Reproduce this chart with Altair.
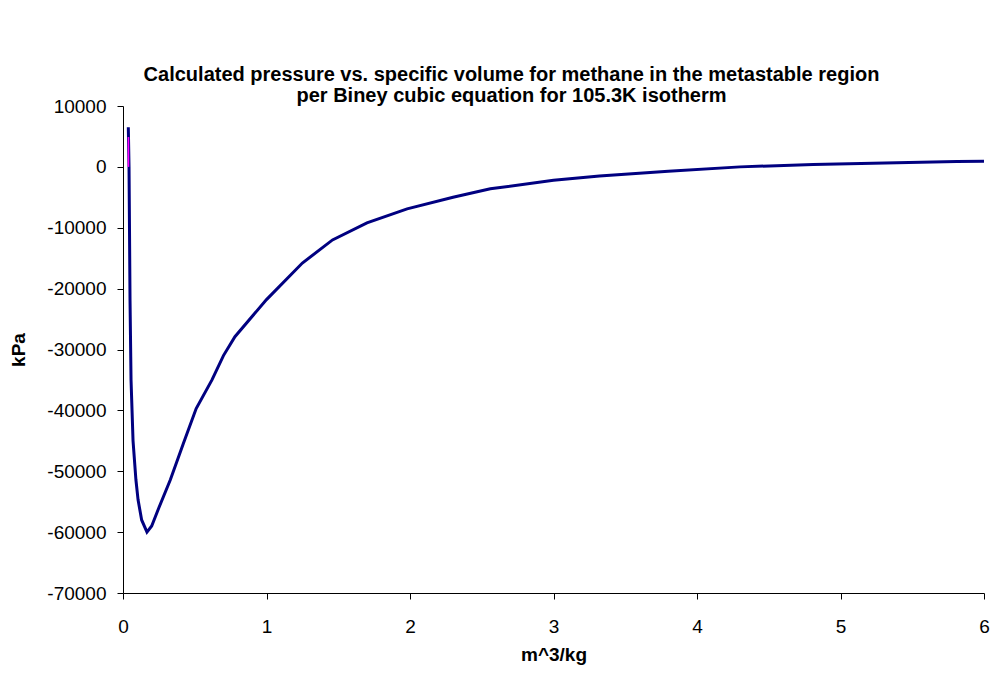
import altair as alt
import pandas as pd

# Main isotherm series (specific volume m^3/kg, pressure kPa)
vol = [0.037, 0.042, 0.049, 0.056, 0.07, 0.09, 0.105, 0.13, 0.167, 0.2, 0.25,
       0.33, 0.42, 0.51, 0.62, 0.7, 0.78, 1.0, 1.25, 1.46, 1.7, 1.98, 2.3,
       2.56, 3.0, 3.32, 3.8, 4.3, 4.81, 5.31, 5.81, 6.0]
pres = [6500, 0, -22000, -35000, -45000, -51400, -54700, -58000, -60000,
        -59000, -56000, -51400, -45500, -39700, -35000, -31000, -27900,
        -21800, -15800, -12000, -9200, -6900, -5000, -3600, -2200, -1500,
        -700, 0, 380, 650, 870, 930]

# Short highlighted segment near the spike
mag_vol = [0.038, 0.038]
mag_pres = [4900, 0]

x_ticks = [0, 1, 2, 3, 4, 5, 6]
y_ticks = [-70000, -60000, -50000, -40000, -30000, -20000, -10000, 0, 10000]

df = pd.DataFrame({"v": vol, "p": pres, "i": list(range(len(vol)))})
dm = pd.DataFrame({"v": mag_vol, "p": mag_pres, "i": [0, 1]})

xs = alt.Scale(domain=[0, 6], nice=False, zero=False)
ys = alt.Scale(domain=[-70000, 10000], nice=False)

xax = alt.Axis(title="m^3/kg", values=x_ticks, grid=False, labelFlush=False,
               labelExpr="'' + datum.value", labelPadding=18, titlePadding=9)
yax = alt.Axis(title="kPa", values=y_ticks, grid=False, labelFlush=False,
               labelExpr="'' + datum.value", labelPadding=11, titlePadding=18)

main = alt.Chart(df).mark_line(color="#000080", strokeWidth=3, clip=True).encode(
    x=alt.X("v:Q", scale=xs, axis=xax),
    y=alt.Y("p:Q", scale=ys, axis=yax),
    order="i:Q",
)
mag = alt.Chart(dm).mark_line(color="#FF00FF", strokeWidth=1.6).encode(
    x=alt.X("v:Q", scale=xs),
    y=alt.Y("p:Q", scale=ys),
    order="i:Q",
)

chart = alt.layer(main, mag).properties(
    width=861,
    height=487,
    background="white",
    title=alt.TitleParams(
        text=["Calculated pressure vs. specific volume for methane in the metastable region",
              "per Biney cubic equation for 105.3K isotherm"],
        font="Liberation Sans", fontSize=20, fontWeight="bold", color="black",
        anchor="middle", dx=-42, offset=-9, lineHeight=21,
    ),
    autosize=alt.AutoSizeParams(type="none"),
    padding={"left": 123, "top": 106, "right": 8, "bottom": 82},
).configure_view(stroke=None).configure_axis(
    labelFont="Liberation Sans", labelFontSize=19, labelColor="black",
    titleFont="Liberation Sans", titleFontSize=19, titleFontWeight="bold",
    titleColor="black", domainColor="black", tickColor="black", tickSize=6,
    domainWidth=1, tickWidth=1,
)

chart.save("out.html", embed_options={"renderer": "svg", "actions": False})
